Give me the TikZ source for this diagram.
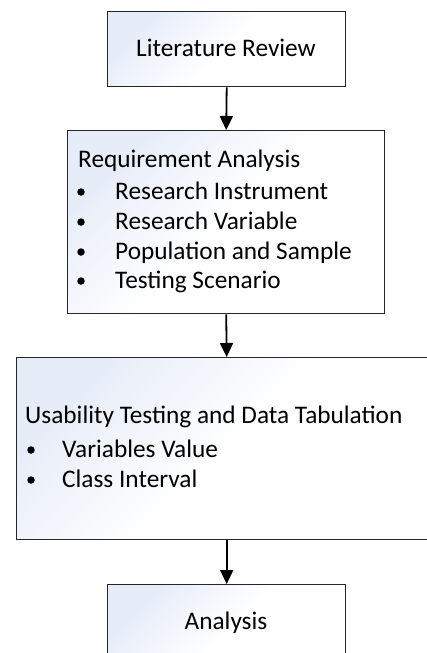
\documentclass[tikz,border=0pt]{standalone}
\usepackage{fontspec}
\setmainfont{Carlito}
\usetikzlibrary{arrows.meta}
\definecolor{gradblue}{RGB}{230,236,248}
\begin{document}
\begin{tikzpicture}[x=1pt,y=-1pt,
  box/.style={draw=black!85,line width=1.4pt,rectangle,inner sep=0pt,
    top color=gradblue,bottom color=white,middle color=white,shading angle=45},
  txt/.style={inner sep=0pt,font=\fontsize{25.3}{30}\selectfont},
  bul/.style={circle,fill=black,inner sep=0pt,minimum size=7.5pt},
  conn/.style={line width=1.8pt,-{Triangle[width=13pt,length=14pt]}}]
\useasboundingbox (0,0) rectangle (427,653);
\clip (0,0) rectangle (427,653);
% boxes
\node[box,anchor=north west,minimum width=238pt,minimum height=75pt] (b1) at (107,11) {};
\node[box,anchor=north west,minimum width=317pt,minimum height=183pt] (b2) at (67,130) {};
\node[box,anchor=north west,minimum width=420pt,minimum height=182pt] (b3) at (16,357) {};
\node[box,anchor=north west,minimum width=238pt,minimum height=100pt] (b4) at (107,584) {};
% texts
\node[txt,anchor=base] (t1) at (226,56) {Literature Review};
\node[txt,anchor=base west] (t2) at (78,167) {Requirement Analysis};
\node[bul] (d21) at (81,192) {};
\node[txt,anchor=base west] (t21) at (115,199) {Research Instrument};
\node[bul] (d22) at (81,222) {};
\node[txt,anchor=base west] (t22) at (115,229) {Research Variable};
\node[bul] (d23) at (81,252) {};
\node[txt,anchor=base west] (t23) at (115,259) {Population and Sample};
\node[bul] (d24) at (81,281) {};
\node[txt,anchor=base west] (t24) at (115,288) {Testing Scenario};
\node[txt,anchor=base west] (t3) at (25,423) {Usability Testing and Data Tabulation};
\node[bul] (d31) at (31,450) {};
\node[txt,anchor=base west] (t31) at (62,457) {Variables Value};
\node[bul] (d32) at (31,480) {};
\node[txt,anchor=base west] (t32) at (62,487) {Class Interval};
\node[txt,anchor=base] (t4) at (226,629) {Analysis};
% connectors
\draw[conn] (b1.south) -- (b2.north);
\draw[conn] (b2.south) -- (b3.north);
\draw[conn] (b3.south) -- (b4.north);
\end{tikzpicture}
\end{document}
